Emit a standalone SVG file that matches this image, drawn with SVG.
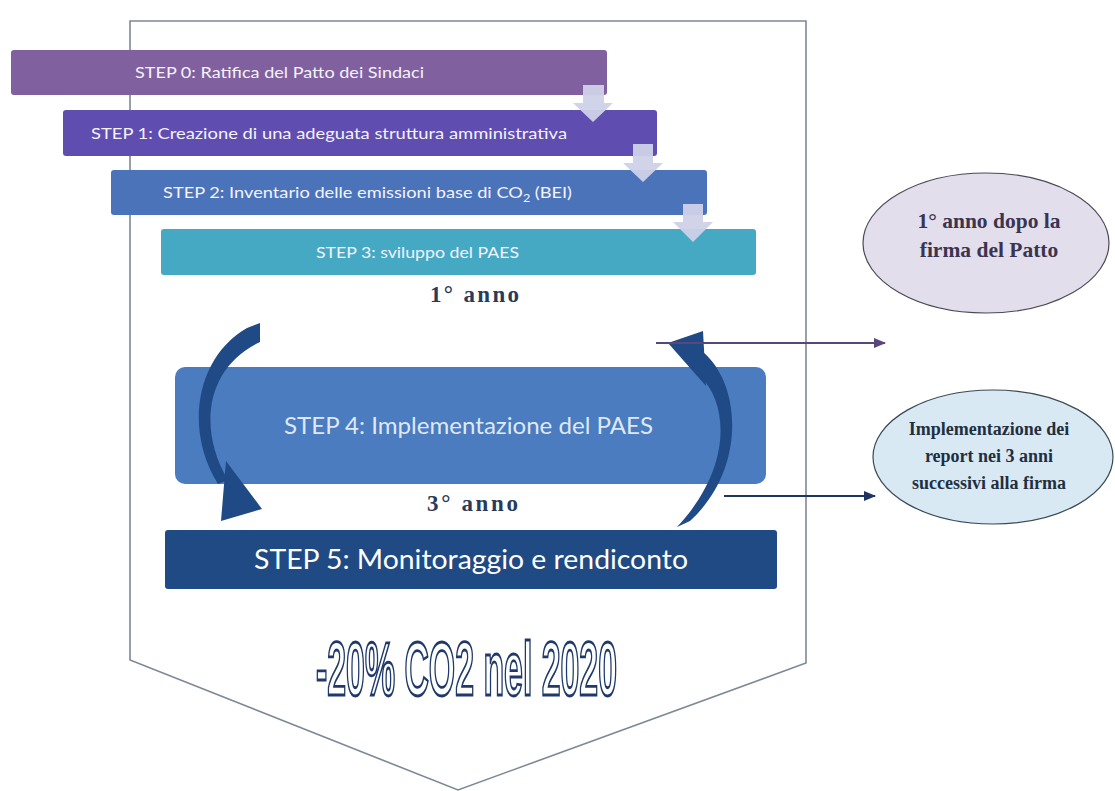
<svg xmlns="http://www.w3.org/2000/svg" width="1115" height="791" viewBox="0 0 1115 791">
<style>
.bar-t{font-family:Lato,"Open Sans","Liberation Sans",sans-serif;fill:#f4f2fa}
.yr{font-family:"Liberation Serif",serif;font-weight:bold;fill:#2b3a58;font-size:23px}
.ell-t{font-family:"Liberation Serif",serif;font-weight:bold;text-anchor:middle}
.down{fill:#cfd1e8;opacity:0.95}
.cyc{fill:#1f4a85}
</style>
<defs>
<marker id="ahP" markerWidth="12" markerHeight="10" refX="11" refY="5" orient="auto" markerUnits="userSpaceOnUse"><path d="M0,0 L12,5 L0,10 Z" fill="#57477a"/></marker>
<marker id="ahN" markerWidth="12" markerHeight="10" refX="11" refY="5" orient="auto" markerUnits="userSpaceOnUse"><path d="M0,0 L12,5 L0,10 Z" fill="#1f3560"/></marker>
</defs>
<rect width="1115" height="791" fill="#ffffff"/>
<g id="frame">
<polygon points="130,21 806,21 806,663 458,790 130,660" fill="#ffffff" stroke="#7d8896" stroke-width="1.6"/>
</g>
<g id="step0">
<rect x="11" y="50" width="596" height="45" rx="3" fill="#80609e"/>
<text class="bar-t" x="135" y="78" font-size="16" textLength="289" lengthAdjust="spacingAndGlyphs">STEP 0: Ratifica del Patto dei Sindaci</text>
</g>
<g id="step1">
<rect x="63" y="110" width="594" height="46" rx="3" fill="#5f4db0"/>
<text class="bar-t" x="91" y="139" font-size="16" textLength="476" lengthAdjust="spacingAndGlyphs">STEP 1: Creazione di una adeguata struttura amministrativa</text>
</g>
<g id="step2">
<rect x="111" y="170" width="596" height="45" rx="3" fill="#4b73ba"/>
<text class="bar-t" x="163" y="198" font-size="16" textLength="409" lengthAdjust="spacingAndGlyphs">STEP 2: Inventario delle emissioni base di CO<tspan font-size="11" dy="4">2</tspan><tspan dy="-4"> (BEI)</tspan></text>
</g>
<g id="step3">
<rect x="161" y="229" width="595" height="46" rx="3" fill="#45a9c4"/>
<text class="bar-t" x="316" y="258" font-size="16" textLength="203" lengthAdjust="spacingAndGlyphs">STEP 3: sviluppo del PAES</text>
</g>
<g id="down-arrows">
<polygon class="down" points="583,85 604,85 604,103 613,103 593,122 573,103 583,103"/>
<polygon class="down" points="633,144 653,144 653,163 663,163 643,182 623,163 633,163"/>
<polygon class="down" points="683,204 703,204 703,222 713,222 693,242 673,222 683,222"/>
</g>
<g id="label-year1">
<text class="yr" x="430" y="302" textLength="89" lengthAdjust="spacing">1° anno</text>
</g>
<g id="step4">
<rect x="175" y="367" width="591" height="117" rx="10" fill="#4a7cbf"/>
<text x="284" y="434" font-family="Lato,'Open Sans','Liberation Sans',sans-serif" font-size="24" fill="#dfe8f4" textLength="369" lengthAdjust="spacingAndGlyphs">STEP 4: Implementazione del PAES</text>
</g>
<g id="label-year3">
<text class="yr" x="427" y="511" textLength="91" lengthAdjust="spacing">3° anno</text>
</g>
<g id="step5">
<rect x="165" y="530" width="612" height="59" rx="3" fill="#1f4a84"/>
<text x="254" y="569" font-family="Lato,'Open Sans','Liberation Sans',sans-serif" font-size="27" fill="#ffffff" textLength="434" lengthAdjust="spacingAndGlyphs">STEP 5: Monitoraggio e rendiconto</text>
</g>
<g id="ellipse-year1">
<ellipse cx="986" cy="243" rx="123" ry="70" fill="#e2deec" stroke="#4a4a55" stroke-width="1.2"/>
<text class="ell-t" x="989" y="228" font-size="21.5" fill="#3b3450">1° anno dopo la</text>
<text class="ell-t" x="989" y="257" font-size="21.5" fill="#3b3450">firma del Patto</text>
</g>
<g id="ellipse-report">
<ellipse cx="993" cy="457" rx="120" ry="67" fill="#d8e9f3" stroke="#3a4a55" stroke-width="1.2"/>
<text class="ell-t" x="989" y="435" font-size="18" fill="#1f2f3f">Implementazione dei</text>
<text class="ell-t" x="989" y="462" font-size="18" fill="#1f2f3f">report nei 3 anni</text>
<text class="ell-t" x="989" y="489" font-size="18" fill="#1f2f3f">successivi alla firma</text>
</g>
<g id="connectors">
<path class="cyc" d="M247,328 C196,357 184,430 218,484 L228,480 C198,430 205,368 260,342 L260,323 Z"/>
<polygon class="cyc" points="226,461 262,509 221,521"/>
<path class="cyc" d="M703,352 C742,385 746,470 690,521 L677,527 C731,470 730,405 700,376 Z"/>
<polygon class="cyc" points="668,343 703,331 706,386"/>
<line x1="656" y1="343" x2="885" y2="343" stroke="#57477a" stroke-width="2.2" marker-end="url(#ahP)"/>
<line x1="724" y1="496" x2="875" y2="496" stroke="#1f3560" stroke-width="2.2" marker-end="url(#ahN)"/>
</g>
<g id="goal">
<text x="316" y="695" font-family="'Liberation Sans Narrow','Liberation Sans',sans-serif" font-weight="bold" font-size="76" fill="#ffffff" stroke="#1f3a6a" stroke-width="2.8" textLength="301" lengthAdjust="spacingAndGlyphs">-20% CO2 nel 2020</text>
</g>
</svg>
